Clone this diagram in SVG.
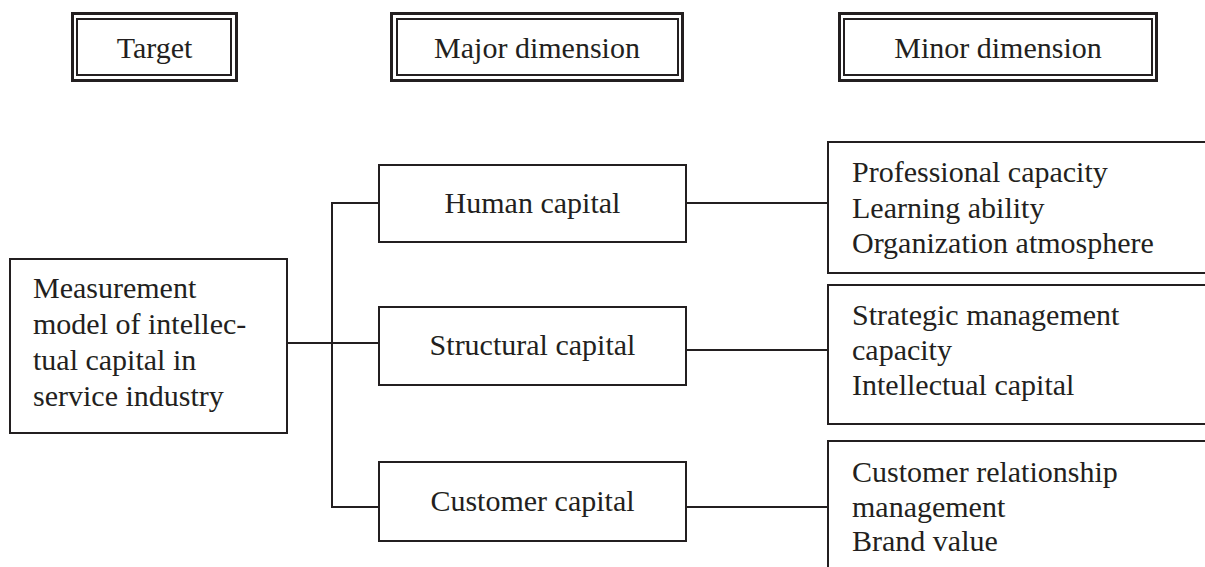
<svg xmlns="http://www.w3.org/2000/svg" width="1205" height="567" viewBox="0 0 1205 567">
<style>
text{font-family:"Liberation Serif","Times New Roman",serif;font-size:30px;fill:#231f20}
.c{text-anchor:middle}
.outer{fill:none;stroke:#231f20;stroke-width:3}
.inner{fill:none;stroke:#231f20;stroke-width:2}
.box{fill:#fff;stroke:#231f20;stroke-width:2}
.ln{fill:none;stroke:#231f20;stroke-width:2}
</style>
<rect width="1205" height="567" fill="#fff"/>
<g id="connectors">
<line class="ln" x1="287" y1="343" x2="379" y2="343"/>
<polyline class="ln" points="379,203 332,203 332,507 379,507"/>
<line class="ln" x1="686" y1="203" x2="828" y2="203"/>
<line class="ln" x1="686" y1="350" x2="828" y2="350"/>
<line class="ln" x1="686" y1="507" x2="828" y2="507"/>
</g>
<g id="hdr-target">
<rect class="outer" x="72.5" y="13.5" width="164" height="67"/>
<rect class="inner" x="77" y="19" width="154" height="56"/>
<text class="c" x="154.5" y="58">Target</text>
</g>
<g id="hdr-major">
<rect class="outer" x="391.5" y="13.5" width="291" height="67"/>
<rect class="inner" x="397" y="19" width="281" height="56"/>
<text class="c" x="537" y="58">Major dimension</text>
</g>
<g id="hdr-minor">
<rect class="outer" x="839.5" y="13.5" width="317" height="67"/>
<rect class="inner" x="844" y="19" width="308" height="56"/>
<text class="c" x="998" y="58">Minor dimension</text>
</g>
<g id="target">
<rect class="box" x="10" y="259" width="277" height="174"/>
<text x="33" y="298">Measurement</text>
<text x="33" y="334">model of intellec-</text>
<text x="33" y="370">tual capital in</text>
<text x="33" y="406">service industry</text>
</g>
<g id="human">
<rect class="box" x="379" y="165" width="307" height="77"/>
<text class="c" x="532.5" y="213">Human capital</text>
</g>
<g id="structural">
<rect class="box" x="379" y="307" width="307" height="78"/>
<text class="c" x="532.5" y="355">Structural capital</text>
</g>
<g id="customer">
<rect class="box" x="379" y="462" width="307" height="79"/>
<text class="c" x="532.5" y="511">Customer capital</text>
</g>
<g id="minor-human">
<rect class="box" x="828" y="142" width="400" height="131"/>
<text x="852" y="182">Professional capacity</text>
<text x="852" y="218">Learning ability</text>
<text x="852" y="253">Organization atmosphere</text>
</g>
<g id="minor-structural">
<rect class="box" x="828" y="285" width="400" height="139"/>
<text x="852" y="325">Strategic management</text>
<text x="852" y="360">capacity</text>
<text x="852" y="395">Intellectual capital</text>
</g>
<g id="minor-customer">
<rect class="box" x="828" y="441" width="400" height="160"/>
<text x="852" y="482">Customer relationship</text>
<text x="852" y="517">management</text>
<text x="852" y="551">Brand value</text>
</g>
</svg>
